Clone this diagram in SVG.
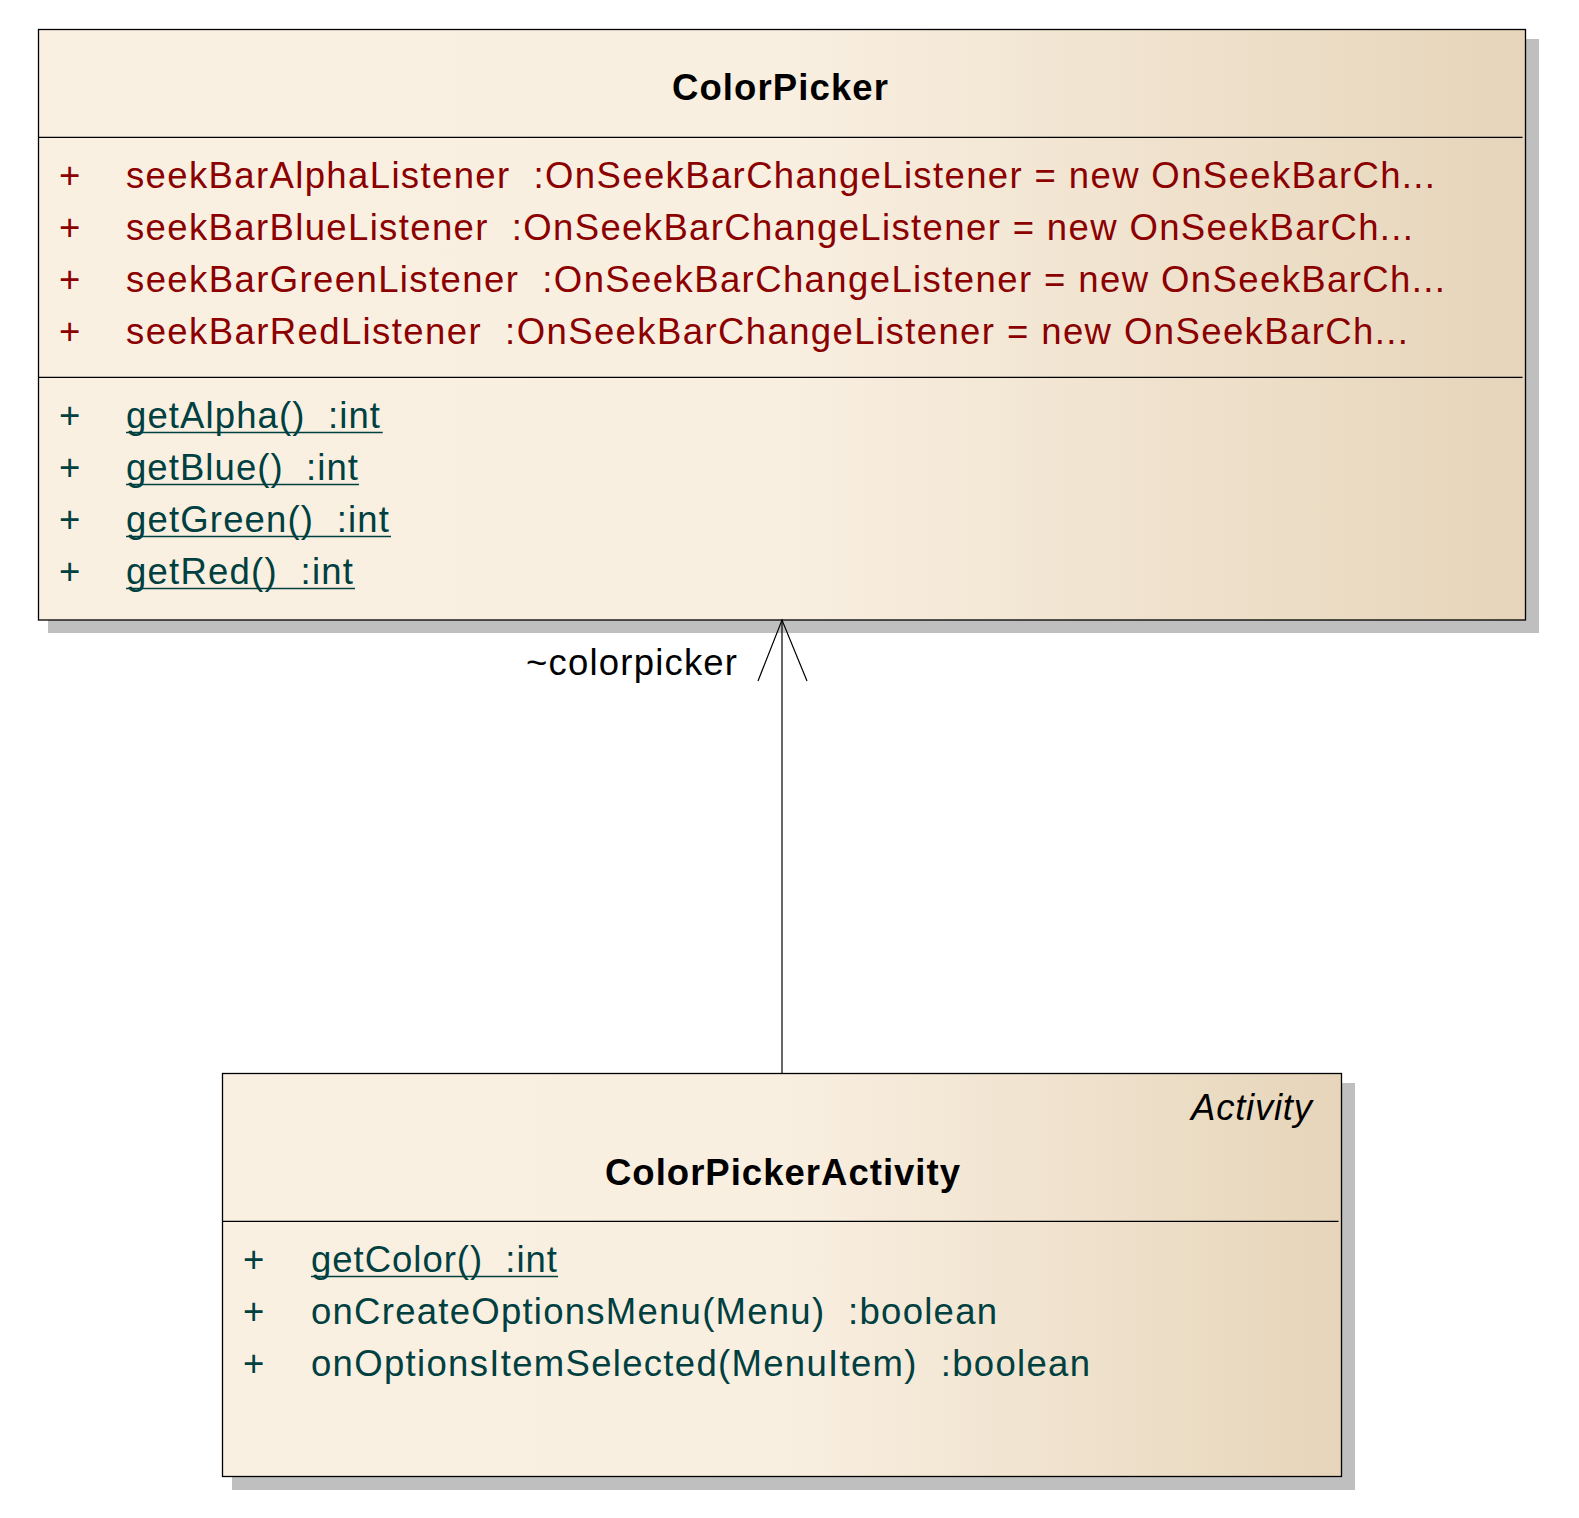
<svg xmlns="http://www.w3.org/2000/svg" width="1579" height="1518" viewBox="0 0 1579 1518">
<defs>
<linearGradient id="fill" x1="0" y1="0" x2="1" y2="0">
<stop offset="0" stop-color="#FAF0E2"/>
<stop offset="0.5" stop-color="#F9EFE1"/>
<stop offset="1" stop-color="#E6D5BA"/>
</linearGradient>
<style>
.shadow{fill:#BFBFBF}
.box{fill:url(#fill);stroke:#000;stroke-width:1.3}
.sep{stroke:#000;stroke-width:1.2}
text{font-family:"Liberation Sans",Arial,sans-serif;font-size:36.5px;white-space:pre}
.title{font-weight:bold;fill:#000}
.attr{fill:#8B0000}
.meth{fill:#004040}
.ul{stroke:#004040;stroke-width:1.4}
.stereo{font-style:italic;fill:#000}
.lbl{fill:#000}
.conn{stroke:#000;stroke-width:1.2;fill:none}
</style>
</defs>
<g id="ColorPicker">
<rect class="shadow" x="48" y="39" width="1491" height="594"/>
<rect class="box" x="38.5" y="29.5" width="1487" height="590.5"/>
<line class="sep" x1="38.5" y1="137.3" x2="1522.5" y2="137.3"/>
<line class="sep" x1="38.5" y1="377.3" x2="1522.5" y2="377.3"/>
<text class="title" x="672" y="100" textLength="216" lengthAdjust="spacing">ColorPicker</text>
<text class="attr" x="59" y="188">+</text>
<text class="attr" x="126" y="188" textLength="1309" lengthAdjust="spacing" xml:space="preserve">seekBarAlphaListener  :OnSeekBarChangeListener = new OnSeekBarCh...</text>
<text class="attr" x="59" y="240">+</text>
<text class="attr" x="126" y="240" textLength="1287" lengthAdjust="spacing" xml:space="preserve">seekBarBlueListener  :OnSeekBarChangeListener = new OnSeekBarCh...</text>
<text class="attr" x="59" y="292">+</text>
<text class="attr" x="126" y="292" textLength="1319" lengthAdjust="spacing" xml:space="preserve">seekBarGreenListener  :OnSeekBarChangeListener = new OnSeekBarCh...</text>
<text class="attr" x="59" y="344">+</text>
<text class="attr" x="126" y="344" textLength="1282" lengthAdjust="spacing" xml:space="preserve">seekBarRedListener  :OnSeekBarChangeListener = new OnSeekBarCh...</text>
<text class="meth" x="59" y="428">+</text>
<text class="meth" x="126" y="428" textLength="254" lengthAdjust="spacing" xml:space="preserve">getAlpha()  :int</text>
<line class="ul" x1="126" y1="432.5" x2="382.7" y2="432.5"/>
<text class="meth" x="59" y="480">+</text>
<text class="meth" x="126" y="480" textLength="232" lengthAdjust="spacing" xml:space="preserve">getBlue()  :int</text>
<line class="ul" x1="126" y1="484.5" x2="359" y2="484.5"/>
<text class="meth" x="59" y="532">+</text>
<text class="meth" x="126" y="532" textLength="263" lengthAdjust="spacing" xml:space="preserve">getGreen()  :int</text>
<line class="ul" x1="126" y1="536.5" x2="391" y2="536.5"/>
<text class="meth" x="59" y="584">+</text>
<text class="meth" x="126" y="584" textLength="227" lengthAdjust="spacing" xml:space="preserve">getRed()  :int</text>
<line class="ul" x1="126" y1="588.5" x2="355" y2="588.5"/>
</g>
<g id="ColorPickerActivity">
<rect class="shadow" x="232" y="1083" width="1123" height="407"/>
<rect class="box" x="222.5" y="1073.5" width="1119" height="403"/>
<line class="sep" x1="222.5" y1="1221.3" x2="1338.5" y2="1221.3"/>
<text class="stereo" x="1191" y="1120" textLength="121" lengthAdjust="spacing">Activity</text>
<text class="title" x="605" y="1185" textLength="355" lengthAdjust="spacing">ColorPickerActivity</text>
<text class="meth" x="243" y="1272">+</text>
<text class="meth" x="311" y="1272" textLength="246" lengthAdjust="spacing" xml:space="preserve">getColor()  :int</text>
<line class="ul" x1="311" y1="1276.5" x2="558" y2="1276.5"/>
<text class="meth" x="243" y="1324">+</text>
<text class="meth" x="311" y="1324" textLength="686" lengthAdjust="spacing" xml:space="preserve">onCreateOptionsMenu(Menu)  :boolean</text>
<text class="meth" x="243" y="1376">+</text>
<text class="meth" x="311" y="1376" textLength="779" lengthAdjust="spacing" xml:space="preserve">onOptionsItemSelected(MenuItem)  :boolean</text>
</g>
<g id="connectors">
<line class="conn" x1="782" y1="620" x2="782" y2="1073"/>
<polyline class="conn" points="758,681 782,620 807,681"/>
<text class="lbl" x="526" y="675" textLength="211" lengthAdjust="spacing">~colorpicker</text>
</g>
</svg>
